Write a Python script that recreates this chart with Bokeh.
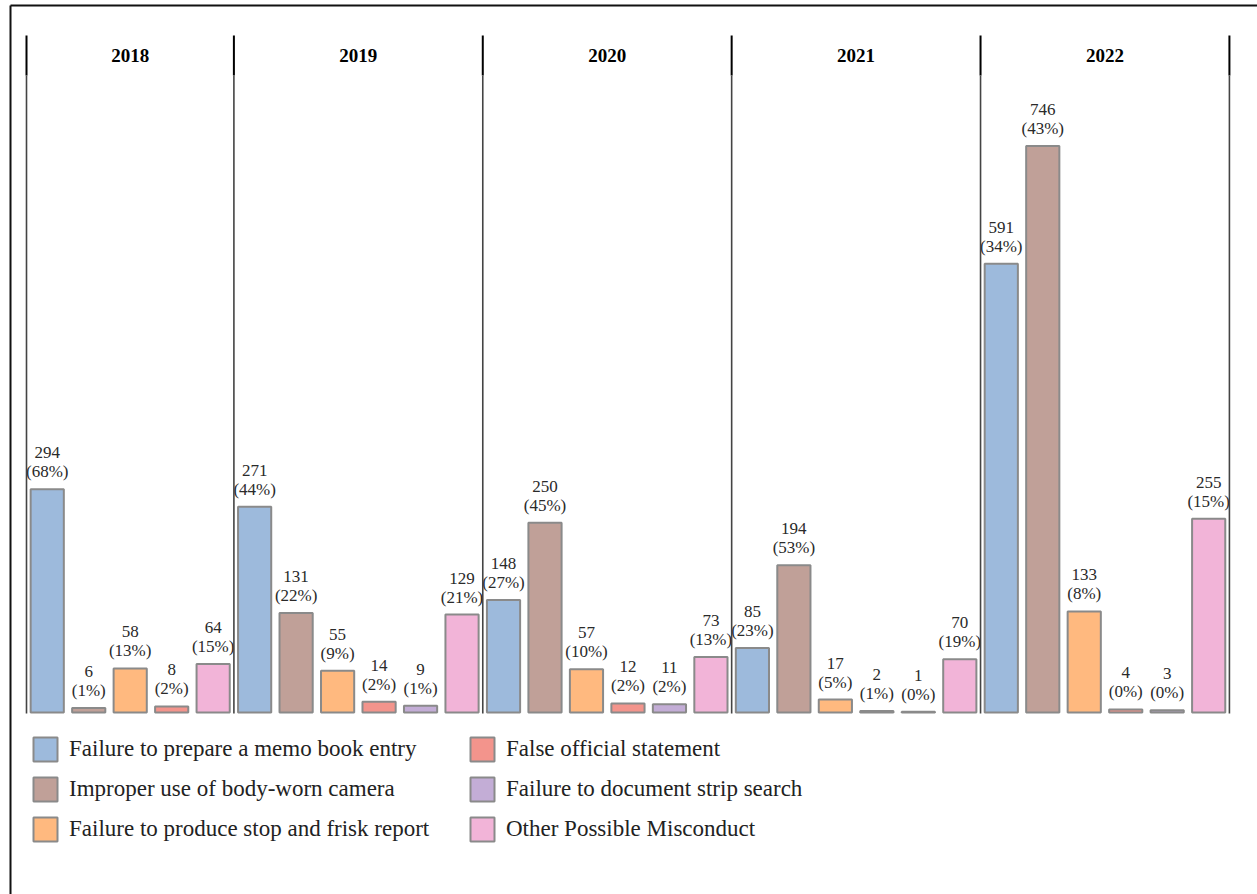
from bokeh.plotting import figure
from bokeh.models import Range1d, Legend, LegendItem, ColumnDataSource
from bokeh.core.properties import value
from bokeh.embed import file_html
from bokeh.resources import INLINE

# ---- data -----------------------------------------------------------------
years = ["2018", "2019", "2020", "2021", "2022"]

categories = [
    "Failure to prepare a memo book entry",
    "Improper use of body-worn camera",
    "Failure to produce stop and frisk report",
    "False official statement",
    "Failure to document strip search",
    "Other Possible Misconduct",
]

colors = ["#9dbadc", "#c0a098", "#ffb97f", "#f3948c", "#c3add6", "#f2b4d8"]

# counts per year, in category order (None = category not reported that year)
counts_2018 = [294, 6, 58, 8, None, 64]
counts_2019 = [271, 131, 55, 14, 9, 129]
counts_2020 = [148, 250, 57, 12, 11, 73]
counts_2021 = [85, 194, 17, 2, 1, 70]
counts_2022 = [591, 746, 133, 4, 3, 255]

# share of the year's total, in percent
pct_2018 = [68, 1, 13, 2, None, 15]
pct_2019 = [44, 22, 9, 2, 1, 21]
pct_2020 = [27, 45, 10, 2, 2, 13]
pct_2021 = [23, 53, 5, 1, 0, 19]
pct_2022 = [34, 43, 8, 0, 0, 15]

counts = [counts_2018, counts_2019, counts_2020, counts_2021, counts_2022]
pcts = [pct_2018, pct_2019, pct_2020, pct_2021, pct_2022]

# ---- canvas geometry --------------------------------------------------------
W, H = 1257, 894
PANEL_LEFT_PX = 26        # left edge of first panel
SLOT_PX = 41.48           # width of one bar slot
BASE_PX = 712             # y pixel of the zero line
UNIT_PX = 0.7595          # pixels per count
STRIP_TOP_PX, STRIP_BOT_PX = 35, 75

FONT = "Liberation Serif"


def x_at(px):
    return (px - PANEL_LEFT_PX) / SLOT_PX


def y_at(py):
    return (BASE_PX - py) / UNIT_PX


p = figure(
    width=W, height=H,
    x_range=Range1d(x_at(0), x_at(W)),
    y_range=Range1d(y_at(H), y_at(0)),
    x_axis_type=None, y_axis_type=None,
    output_backend="svg", toolbar_location=None,
    min_border=0,
)
p.grid.visible = False
p.outline_line_color = None
p.background_fill_color = "white"
p.border_fill_color = "white"

# ---- bars and labels, one facet per year ------------------------------------
per_cat = {c: dict(x=[], top=[], label=[]) for c in categories}
boundaries = [0]
strip_x = []
slot = 0
for yi, yr in enumerate(years):
    start = slot
    for ci, cat in enumerate(categories):
        v = counts[yi][ci]
        if v is None:
            continue
        per_cat[cat]["x"].append(slot + 0.5)
        per_cat[cat]["top"].append(v)
        per_cat[cat]["label"].append(f"{v}\n({pcts[yi][ci]}%)")
        slot += 1
    boundaries.append(slot)
    strip_x.append((start + slot) / 2)

renderers = {}
for cat, col in zip(categories, colors):
    src = ColumnDataSource(per_cat[cat])
    renderers[cat] = p.vbar(
        x="x", top="top", bottom=0, width=0.8, source=src,
        fill_color=col, line_color="#8a8a8a", line_width=2,
    )
    p.text(
        x="x", y="top", text="label", source=src,
        text_align="center", text_baseline="bottom", y_offset=-8,
        text_font=value(FONT), text_font_size="17px", text_color="#2a2a2a",
        text_line_height=1.0,
    )

# facet separators: black in the strip, dark grey along the panel
p.segment(x0=boundaries, x1=boundaries,
          y0=[y_at(STRIP_TOP_PX)] * len(boundaries),
          y1=[y_at(STRIP_BOT_PX)] * len(boundaries),
          line_color="black", line_width=2)
p.segment(x0=boundaries, x1=boundaries,
          y0=[y_at(STRIP_BOT_PX)] * len(boundaries),
          y1=[y_at(BASE_PX + 1)] * len(boundaries),
          line_color="#444444", line_width=1.6)

# year strips
p.text(x=strip_x, y=[y_at((STRIP_TOP_PX + STRIP_BOT_PX) / 2)] * len(years),
       text=years, text_align="center", text_baseline="middle",
       text_font=value(FONT), text_font_size="19px", text_font_style="bold",
       text_color="black")

# outer frame (left and top edges)
p.segment(x0=[x_at(10), x_at(10)], y0=[y_at(5), y_at(5)],
          x1=[x_at(W), x_at(10)], y1=[y_at(5), y_at(H)],
          line_color="#111111", line_width=2)

# ---- legend: two columns of three ------------------------------------------
def make_legend(cats, left_px):
    leg = Legend(
        items=[LegendItem(label=c, renderers=[renderers[c]]) for c in cats],
        location=(left_px, 50),
        orientation="vertical",
        glyph_width=30, glyph_height=30, spacing=10,
        label_standoff=9, label_height=30,
        label_text_font=FONT, label_text_font_size="23px",
        label_text_color="#222222", label_text_baseline="middle",
        border_line_color=None, background_fill_alpha=0,
        padding=0, margin=0,
    )
    return leg


p.add_layout(make_legend(categories[:3], 30))
p.add_layout(make_legend(categories[3:], 467))

open("out.html", "w").write(file_html(p, INLINE))
